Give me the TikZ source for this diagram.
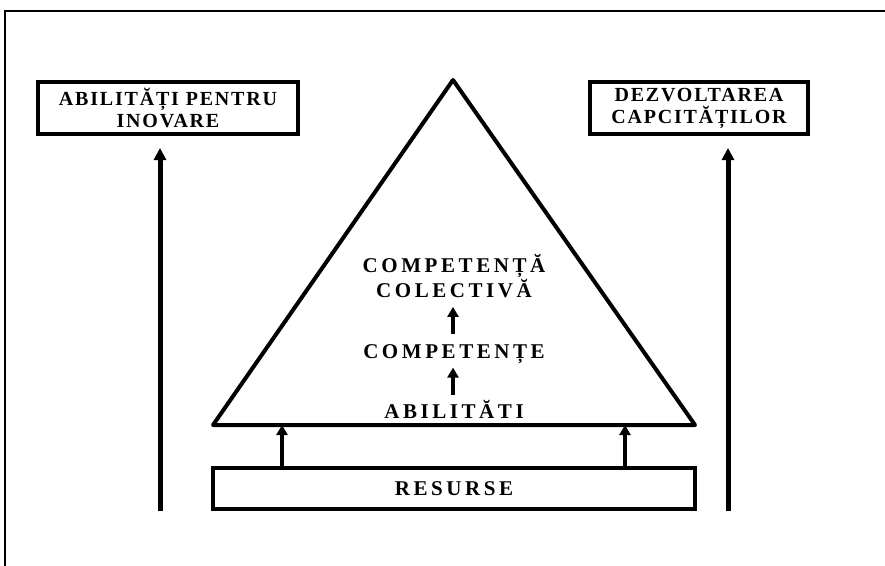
\documentclass[tikz,border=0pt]{standalone}
\usepackage{fontspec}
\setmainfont{Liberation Serif}
\usetikzlibrary{arrows.meta}
\begin{document}
\begin{tikzpicture}[x=1pt,y=-1pt,
  lbl/.style={font=\fontsize{20}{22}\selectfont\bfseries\addfontfeatures{LetterSpace=9}, align=center, inner sep=0pt},
  tri/.style={font=\fontsize{21}{23}\selectfont\bfseries\addfontfeatures{LetterSpace=17}, align=center, inner sep=0pt},
  box/.style={draw, line width=3.5pt, inner sep=0pt, lbl},
  bigarr/.style={line width=5pt, -{Triangle[width=12pt,length=12pt]}},
  smallarr/.style={line width=4pt, -{Triangle[width=11pt,length=10pt]}},
  ]
\useasboundingbox (0,0) rectangle (885,565);
\draw[line width=2.5pt] (5,566) -- (5,11) -- (886,11);

% boxes
\node[box, minimum width=260pt, minimum height=52pt] (inov) at (168,108) {ABILITĂȚI PENTRU\\INOVARE};
\node[box, minimum width=218pt, minimum height=52pt] (cap) at (699,108) {DEZVOLTAREA\\CAPCITĂȚILOR};
\node[box, minimum width=482pt, minimum height=41pt, tri] (res) at (454,488.5) {RESURSE};

% triangle
\coordinate (apex) at (453,80);
\coordinate (bl) at (213,425);
\coordinate (br) at (695,425);
\draw[line width=4pt, line join=round] (bl) -- (apex) -- (br) -- cycle;

% texts inside triangle
\node[tri, anchor=base] (colect) at (454,297) {COMPETENȚĂ\\COLECTIVĂ};
\node[tri, anchor=base] (comp) at (454,358) {COMPETENȚE};
\node[tri, anchor=base] (abil) at (454,418) {ABILITĂTI};

% inner arrows
\draw[smallarr] (comp.north -| apex) ++(0,-10) -- ++(0,-27);
\draw[smallarr] (abil.north -| apex) ++(0,-5) -- ++(0,-27);

% base arrows
\coordinate (la) at (282,425);
\coordinate (ra) at (625,425);
\draw[smallarr] (res.north -| la) -- (la);
\draw[smallarr] (res.north -| ra) -- (ra);

% side arrows
\coordinate (lbot) at (160,511);
\coordinate (rbot) at (728,511);
\draw[bigarr] (lbot) -- (lbot |- {(0,148)});
\draw[bigarr] (rbot) -- (rbot |- {(0,148)});
\end{tikzpicture}
\end{document}
